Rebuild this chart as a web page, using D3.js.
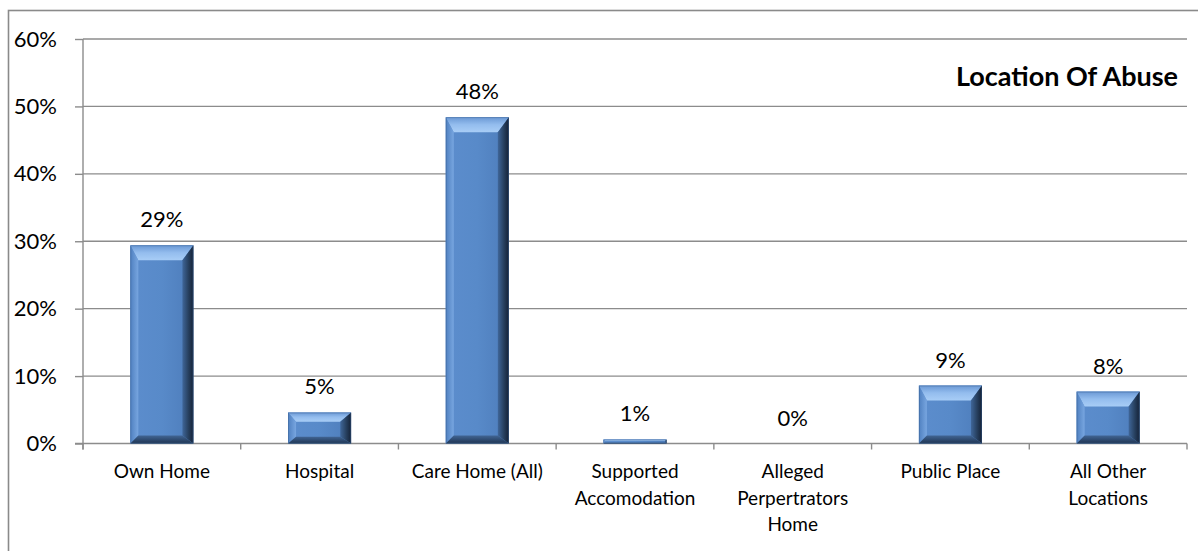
<!DOCTYPE html>
<html>
<head>
<meta charset="utf-8">
<script src="https://cdn.jsdelivr.net/npm/d3@7"></script>
<style>
  html, body { margin: 0; padding: 0; background: #fff; }
  svg { display: block; }
  text { font-family: Lato, "Open Sans", sans-serif; fill: #000; }
</style>
</head>
<body>
<svg id="chart" width="1198" height="551"></svg>
<script>
// Location of abuse, share of referrals
const categories = [
  "Own Home",
  "Hospital",
  "Care Home (All)",
  "Supported\nAccomodation",
  "Alleged\nPerpertrators\nHome",
  "Public Place",
  "All Other\nLocations"
];
const shares = [0.294, 0.046, 0.484, 0.006, 0.0, 0.086, 0.077];
const yTicks = [0, 0.1, 0.2, 0.3, 0.4, 0.5, 0.6];
const chartTitle = "Location Of Abuse";

const svg = d3.select("#chart");
const plot = { left: 83, right: 1187, top: 39, bottom: 443.5 };

// Outer chart frame (runs off the right and bottom edges)
svg.append("rect")
  .attr("x", 8.5).attr("y", 10.5)
  .attr("width", 1300).attr("height", 700)
  .attr("fill", "none")
  .attr("stroke", "#8a8a8a")
  .attr("stroke-width", 1.6);

const x = d3.scaleBand()
  .domain(categories)
  .range([plot.left, plot.right])
  .paddingInner(0.6)
  .paddingOuter(0.3);

const y = d3.scaleLinear()
  .domain([0, 0.6])
  .range([plot.bottom, plot.top]);

const pct = d3.format(".0%");

// Gradients for the bevelled column faces
const defs = svg.append("defs");
function grad(id, x1, y1, x2, y2, stops) {
  const g = defs.append("linearGradient").attr("id", id)
    .attr("x1", x1).attr("y1", y1).attr("x2", x2).attr("y2", y2);
  stops.forEach(([o, c]) => g.append("stop").attr("offset", o).attr("stop-color", c));
}
grad("bvTop", 0, 0, 0, 1, [[0, "#6a98d4"], [0.5, "#94bdee"], [1, "#a8cdf6"]]);
grad("bvLeft", 0, 0, 1, 0, [[0, "#4f80c0"], [1, "#78a6e0"]]);
grad("bvRight", 0, 0, 1, 0, [[0, "#3f6699"], [0.55, "#27405f"], [1, "#142136"]]);
grad("bvBottom", 0, 0, 0, 1, [[0, "#416594"], [1, "#1f3451"]]);
grad("bvFace", 0, 0, 1, 0, [[0, "#5c8dcd"], [0.5, "#588ac9"], [1, "#4d7cba"]]);

// Gridlines
svg.append("g")
  .selectAll("line")
  .data(yTicks.filter(d => d > 0))
  .join("line")
  .attr("x1", plot.left).attr("x2", plot.right)
  .attr("y1", d => y(d)).attr("y2", d => y(d))
  .attr("stroke", "#8c8c8c")
  .attr("stroke-width", 1.4);

// Y axis
const yAxis = svg.append("g")
  .attr("transform", `translate(${plot.left},0)`)
  .call(d3.axisLeft(y).tickValues(yTicks).tickFormat(pct).tickSize(8).tickPadding(18));
yAxis.select(".domain").remove();
yAxis.selectAll(".tick line").attr("stroke", "#8c8c8c").attr("stroke-width", 1.4);
yAxis.selectAll(".tick text")
  .style("font-family", "Lato, sans-serif")
  .style("font-size", "22px")
  .attr("fill", "#000");
svg.append("line")
  .attr("x1", plot.left).attr("x2", plot.left)
  .attr("y1", plot.top).attr("y2", plot.bottom + 6)
  .attr("stroke", "#8c8c8c").attr("stroke-width", 1.4);

// X axis line and category boundary ticks
const step = x.step();
const bounds = d3.range(categories.length + 1).map(i => plot.left + i * step);
svg.append("line")
  .attr("x1", plot.left - 8).attr("x2", plot.right)
  .attr("y1", plot.bottom).attr("y2", plot.bottom)
  .attr("stroke", "#8c8c8c").attr("stroke-width", 1.4);
svg.append("g").selectAll("line")
  .data(bounds)
  .join("line")
  .attr("x1", d => d).attr("x2", d => d)
  .attr("y1", plot.bottom).attr("y2", plot.bottom + 6)
  .attr("stroke", "#8c8c8c").attr("stroke-width", 1.4);

// Bevelled columns
const bars = svg.append("g").selectAll("g")
  .data(categories.map((c, i) => ({ c, v: shares[i] })))
  .join("g");

bars.each(function (d) {
  const g = d3.select(this);
  const x0 = x(d.c), w = x.bandwidth();
  const y0 = y(d.v), y1 = y(0);
  const h = y1 - y0;
  if (h <= 0.5) return;
  const t = Math.min(15, h * 0.3);
  const b = Math.min(8, h * 0.22);
  const l = Math.min(8, h * 0.3);
  const r = Math.min(11, h * 0.35);
  const x1 = x0 + w;
  g.append("rect").attr("x", x0).attr("y", y0).attr("width", w).attr("height", h)
    .attr("fill", "url(#bvFace)");
  const poly = (pts, fill) => g.append("polygon")
    .attr("points", pts.map(p => p.join(",")).join(" "))
    .attr("fill", fill);
  poly([[x0, y0], [x1, y0], [x1 - r, y0 + t], [x0 + l, y0 + t]], "url(#bvTop)");
  poly([[x0, y0], [x0 + l, y0 + t], [x0 + l, y1 - b], [x0, y1]], "url(#bvLeft)");
  poly([[x1, y0], [x1, y1], [x1 - r, y1 - b], [x1 - r, y0 + t]], "url(#bvRight)");
  poly([[x0, y1], [x0 + l, y1 - b], [x1 - r, y1 - b], [x1, y1]], "url(#bvBottom)");
  g.append("rect").attr("x", x0 + 0.5).attr("y", y0 + 0.5).attr("width", w - 1).attr("height", h - 1)
    .attr("fill", "none").attr("stroke", "#3a5f8f").attr("stroke-width", 0.8).attr("stroke-opacity", 0.5);
});

// Value labels
svg.append("g").selectAll("text")
  .data(categories.map((c, i) => ({ c, v: shares[i] })))
  .join("text")
  .attr("x", d => x(d.c) + x.bandwidth() / 2)
  .attr("y", d => y(d.v) - 18)
  .attr("text-anchor", "middle")
  .style("font-size", "22px")
  .text(d => pct(d.v));

// Category labels (multi-line)
const cat = svg.append("g").selectAll("text")
  .data(categories)
  .join("text")
  .attr("x", d => x(d) + x.bandwidth() / 2)
  .attr("y", 478)
  .attr("text-anchor", "middle")
  .style("font-size", "19px");
cat.each(function (d) {
  const el = d3.select(this);
  d.split("\n").forEach((line, i) => {
    el.append("tspan")
      .attr("x", x(d) + x.bandwidth() / 2)
      .attr("dy", i === 0 ? 0 : 26.5)
      .text(line);
  });
});

// Title
svg.append("text")
  .attr("x", 1178).attr("y", 86)
  .attr("text-anchor", "end")
  .style("font-size", "27px")
  .style("font-weight", "bold")
  .text(chartTitle);
</script>
</body>
</html>
